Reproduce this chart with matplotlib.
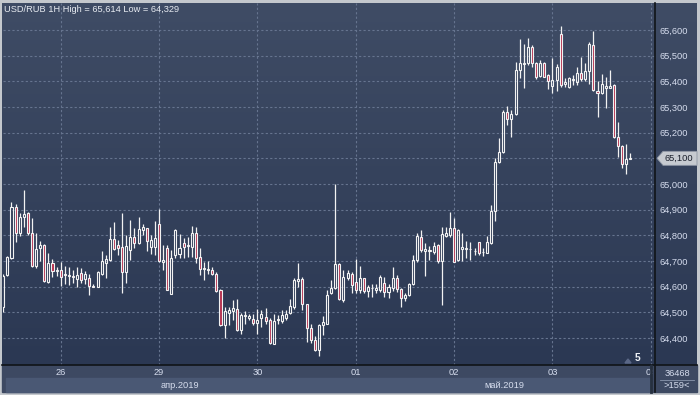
import matplotlib
matplotlib.use("Agg")
import matplotlib.pyplot as plt
import numpy as np
from matplotlib.patches import Rectangle, Polygon
from matplotlib.lines import Line2D
from matplotlib.ticker import FuncFormatter
from matplotlib.transforms import Bbox

# USD/RUB hourly candles, 25 Apr 10:00 .. 03 May 2019
opens = [64.520, 64.645, 64.710, 64.909, 64.810, 64.870, 64.886, 64.810, 64.681, 64.749,
         64.762, 64.618, 64.691, 64.662, 64.665, 64.648, 64.640, 64.642, 64.629, 64.652,
         64.631, 64.635, 64.603, 64.600, 64.649, 64.694, 64.704, 64.784, 64.761, 64.756,
         64.658, 64.743, 64.792, 64.771, 64.821, 64.827, 64.756, 64.753, 64.844, 64.695,
         64.751, 64.573, 64.722, 64.729, 64.771, 64.757, 64.755, 64.810, 64.716, 64.668,
         64.666, 64.666, 64.648, 64.586, 64.449, 64.497, 64.505, 64.514, 64.430, 64.484,
         64.480, 64.475, 64.458, 64.479, 64.482, 64.469, 64.378, 64.471, 64.466, 64.479,
         64.497, 64.521, 64.621, 64.631, 64.531, 64.440, 64.394, 64.355, 64.452, 64.456,
         64.574, 64.594, 64.687, 64.548, 64.632, 64.648, 64.617, 64.587, 64.632, 64.583,
         64.594, 64.587, 64.587, 64.616, 64.581, 64.594, 64.635, 64.590, 64.555, 64.568,
         64.609, 64.704, 64.792, 64.739, 64.738, 64.736, 64.762, 64.700, 64.797, 64.801,
         64.827, 64.704, 64.745, 64.748, 64.746, 64.738, 64.773, 64.734, 64.732, 64.771,
         64.896, 65.087, 65.126, 65.279, 65.252, 65.271, 65.444, 65.466, 65.470, 65.532,
         65.470, 65.421, 65.470, 65.425, 65.383, 65.405, 65.584, 65.390, 65.379, 65.406,
         65.399, 65.431, 65.408, 65.442, 65.542, 65.364, 65.356, 65.375, 65.375, 65.386,
         65.184, 65.149, 65.077, 65.096]
highs = [64.650, 64.720, 64.929, 64.922, 64.886, 64.977, 64.892, 64.866, 64.808, 64.779,
         64.766, 64.730, 64.708, 64.675, 64.697, 64.681, 64.678, 64.665, 64.675, 64.671,
         64.662, 64.649, 64.610, 64.660, 64.739, 64.723, 64.834, 64.853, 64.782, 64.886,
         64.801, 64.860, 64.827, 64.873, 64.843, 64.830, 64.801, 64.856, 64.901, 64.762,
         64.761, 64.744, 64.825, 64.806, 64.791, 64.794, 64.835, 64.832, 64.752, 64.696,
         64.699, 64.677, 64.657, 64.592, 64.521, 64.521, 64.547, 64.551, 64.497, 64.504,
         64.495, 64.495, 64.514, 64.508, 64.518, 64.479, 64.495, 64.491, 64.508, 64.508,
         64.553, 64.635, 64.694, 64.638, 64.532, 64.453, 64.407, 64.456, 64.484, 64.588,
         64.626, 65.000, 64.691, 64.665, 64.665, 64.658, 64.708, 64.681, 64.635, 64.606,
         64.610, 64.610, 64.645, 64.636, 64.610, 64.675, 64.645, 64.594, 64.574, 64.613,
         64.723, 64.808, 64.821, 64.769, 64.760, 64.775, 64.765, 64.834, 64.834, 64.890,
         64.866, 64.823, 64.808, 64.778, 64.775, 64.749, 64.775, 64.749, 64.797, 64.918,
         65.100, 65.178, 65.288, 65.304, 65.288, 65.474, 65.565, 65.545, 65.568, 65.542,
         65.477, 65.483, 65.477, 65.429, 65.490, 65.468, 65.614, 65.412, 65.416, 65.425,
         65.455, 65.494, 65.470, 65.552, 65.594, 65.403, 65.429, 65.418, 65.444, 65.390,
         65.240, 65.152, 65.156, 65.119]
lows = [64.500, 64.640, 64.708, 64.775, 64.799, 64.834, 64.801, 64.678, 64.671, 64.701,
        64.619, 64.616, 64.639, 64.642, 64.603, 64.610, 64.606, 64.616, 64.600, 64.613,
        64.610, 64.568, 64.597, 64.597, 64.645, 64.632, 64.701, 64.743, 64.723, 64.577,
        64.616, 64.704, 64.749, 64.768, 64.801, 64.739, 64.727, 64.723, 64.697, 64.665,
        64.586, 64.570, 64.713, 64.713, 64.713, 64.716, 64.716, 64.692, 64.644, 64.625,
        64.651, 64.644, 64.579, 64.445, 64.401, 64.449, 64.471, 64.427, 64.417, 64.456,
        64.469, 64.449, 64.417, 64.443, 64.456, 64.378, 64.375, 64.456, 64.458, 64.469,
        64.495, 64.514, 64.599, 64.508, 64.384, 64.381, 64.349, 64.329, 64.410, 64.453,
        64.571, 64.590, 64.548, 64.542, 64.626, 64.574, 64.574, 64.574, 64.574, 64.558,
        64.561, 64.574, 64.581, 64.561, 64.555, 64.583, 64.581, 64.522, 64.545, 64.565,
        64.606, 64.697, 64.736, 64.642, 64.704, 64.727, 64.691, 64.529, 64.795, 64.792,
        64.697, 64.701, 64.701, 64.713, 64.704, 64.723, 64.723, 64.719, 64.730, 64.766,
        64.857, 65.083, 65.119, 65.230, 65.184, 65.269, 65.412, 65.375, 65.464, 65.457,
        65.408, 65.418, 65.416, 65.369, 65.353, 65.364, 65.377, 65.379, 65.373, 65.386,
        65.386, 65.403, 65.403, 65.390, 65.364, 65.260, 65.351, 65.295, 65.373, 65.178,
        65.104, 65.064, 65.038, 65.096]
closes = [64.640, 64.714, 64.909, 64.808, 64.873, 64.882, 64.808, 64.681, 64.747, 64.761,
          64.622, 64.691, 64.662, 64.666, 64.639, 64.645, 64.644, 64.636, 64.645, 64.626,
          64.648, 64.603, 64.600, 64.658, 64.700, 64.708, 64.784, 64.748, 64.752, 64.658,
          64.760, 64.792, 64.769, 64.823, 64.831, 64.779, 64.782, 64.788, 64.701, 64.704,
          64.588, 64.713, 64.822, 64.751, 64.755, 64.761, 64.810, 64.713, 64.670, 64.671,
          64.667, 64.648, 64.583, 64.449, 64.504, 64.508, 64.516, 64.430, 64.488, 64.488,
          64.484, 64.458, 64.471, 64.492, 64.466, 64.381, 64.466, 64.475, 64.488, 64.495,
          64.523, 64.625, 64.631, 64.531, 64.440, 64.394, 64.355, 64.449, 64.462, 64.569,
          64.594, 64.687, 64.551, 64.639, 64.652, 64.606, 64.587, 64.632, 64.583, 64.597,
          64.595, 64.596, 64.636, 64.581, 64.597, 64.635, 64.590, 64.555, 64.568, 64.609,
          64.704, 64.797, 64.743, 64.747, 64.742, 64.760, 64.700, 64.804, 64.808, 64.827,
          64.697, 64.821, 64.753, 64.750, 64.748, 64.740, 64.730, 64.736, 64.775, 64.896,
          65.087, 65.126, 65.282, 65.252, 65.271, 65.444, 65.470, 65.470, 65.532, 65.470,
          65.418, 65.470, 65.418, 65.403, 65.405, 65.455, 65.386, 65.399, 65.412, 65.408,
          65.431, 65.408, 65.442, 65.545, 65.366, 65.353, 65.388, 65.383, 65.383, 65.184,
          65.149, 65.077, 65.096, 65.100]

day_labels = ["26", "29", "30", "01", "02", "03", "04"]
bars_first_day = 14      # hourly bars of 25 Apr shown
bars_per_day = 24
month_labels = ["апр.2019", "май.2019"]
title = "USD/RUB 1H High = 65,614 Low = 64,329"
last_price = 65.100
footer_top, footer_bottom = "36468", ">159<"

# colours / fonts
plt.rcParams['font.family'] = ['Liberation Sans', 'DejaVu Sans']
fs = 6.7
bg_top, bg_bot = "#3f4c65", "#2b3853"
strip_color = "#3d4962"
band_color = "#4a5874"
frame_color = "#c4c8cd"
grid_color = "#66748f"
wick_color = "#f2f2f2"
down_color = "#b5304f"
label_color = "#d6ddee"

W, H = 700, 395
fig = plt.figure(figsize=(7, 3.95), dpi=100)
fig.patch.set_facecolor(frame_color)

def fx(px):
    return px / W

def fy(py):
    return 1 - py / H

# gradient panel behind plot + price column
bg = fig.add_axes([fx(2), fy(365), fx(697) - fx(2), fy(3) - fy(365)])
t = np.linspace(0, 1, 256)[:, None, None]
c0 = np.array(matplotlib.colors.to_rgb(bg_top))
c1 = np.array(matplotlib.colors.to_rgb(bg_bot))
bg.imshow(c0 + (c1 - c0) * t, aspect="auto", extent=[0, 1, 0, 1], origin="upper")
bg.axis("off")

# bottom strip with month band
fig.add_artist(Rectangle((fx(2), fy(392)), fx(697) - fx(2), fy(365) - fy(392),
                         transform=fig.transFigure, color=strip_color, zorder=0))
fig.add_artist(Rectangle((fx(6), fy(392)), fx(650) - fx(6), fy(378) - fy(392),
                         transform=fig.transFigure, color=band_color, zorder=0))

# main chart axes
px0, px1, py0, py1 = 2.5, 655, 3, 365
ax = fig.add_axes([fx(px0), fy(py1), fx(px1) - fx(px0), fy(py0) - fy(py1)])
ax.set_facecolor("none")
step = 4.098
ax.set_xlim((px0 - 3.3) / step, (px1 - 3.3) / step)
ax.set_ylim(64.295, 65.705)

o, h, l, c = map(np.array, (opens, highs, lows, closes))
x = np.arange(len(o))
lo = np.minimum(o, c)
hi = np.maximum(o, c)
ax.vlines(x, l, lo, color=wick_color, lw=0.9, zorder=3)
ax.vlines(x, hi, h, color=wick_color, lw=0.9, zorder=3)
bw = 0.5
for xi, a, b, up in zip(x, lo, hi, c >= o):
    ax.add_patch(Rectangle((xi - bw / 2, a), bw, b - a,
                           facecolor="none" if up else down_color,
                           edgecolor=wick_color, lw=0.8, zorder=4))

def price_fmt(v, pos):
    # the tick under the last-price tag is hidden by the tag
    if abs(v - last_price) < 1e-6:
        return ""
    return f"{v:.3f}".replace(".", ",")

day_pos = [bars_first_day + k * bars_per_day for k in range(len(day_labels))]
ax.set_xticks(day_pos)
ax.set_xticklabels(day_labels)
ax.set_yticks(np.arange(64.4, 65.61, 0.1))
ax.yaxis.tick_right()
ax.yaxis.set_major_formatter(FuncFormatter(price_fmt))
ax.tick_params(axis="y", length=0, pad=3.2, labelsize=fs, labelcolor=label_color)
ax.tick_params(axis="x", length=0, pad=2.5, labelsize=fs, labelcolor=label_color)
ax.grid(True, color=grid_color, linestyle=(0, (2, 2)), linewidth=0.8)
for s in ax.spines.values():
    s.set_visible(False)
# last date label is cut by the price column
last = ax.get_xticklabels()[-1]
last.set_clip_box(Bbox.from_extents(0, 0, 653, H))
last.set_clip_on(True)

# frame lines
fig.add_artist(Line2D([fx(2), fx(697)], [fy(365), fy(365)], transform=fig.transFigure,
                      color="#101418", lw=1.2))
fig.add_artist(Line2D([fx(655), fx(655)], [fy(3), fy(392)], transform=fig.transFigure,
                      color="#101418", lw=1.2))
fig.add_artist(Line2D([fx(651), fx(651)], [fy(366), fy(392)], transform=fig.transFigure,
                      color="#26303f", lw=2))

# texts
fig.text(fx(4), fy(9), title, ha="left", va="center", fontsize=fs, color="#e8ecf2")
fig.text(fx(180), fy(385), month_labels[0], ha="center", va="center", fontsize=fs, color=label_color)
fig.text(fx(504), fy(385), month_labels[1], ha="center", va="center", fontsize=fs, color=label_color)
fig.text(fx(677), fy(373), footer_top, ha="center", va="center", fontsize=fs, color=label_color)
fig.add_artist(Line2D([fx(660), fx(694)], [fy(379.5), fy(379.5)], transform=fig.transFigure,
                      color="#8a96ad", lw=0.6))
fig.text(fx(677), fy(386), footer_bottom, ha="center", va="center", fontsize=fs, color=label_color)

# last price tag
yt = fy(365) + (last_price - 64.295) / (65.705 - 64.295) * (fy(3) - fy(365))
th = 7 / H
tag = Polygon([(fx(657), yt), (fx(663), yt + th), (fx(697), yt + th),
               (fx(697), yt - th), (fx(663), yt - th)], closed=True,
              transform=fig.transFigure, facecolor="#c6cad0", edgecolor="#8e96a4", lw=0.6)
fig.add_artist(tag)
fig.text(fx(679), yt, f"{last_price:.3f}".replace(".", ","), ha="center", va="center",
         fontsize=fs, color="#1a1f2b")

# small bar-count marker
fig.add_artist(Polygon([(fx(625), fy(363)), (fx(631), fy(363)), (fx(628), fy(359))],
                       transform=fig.transFigure, color="#5b6887"))
fig.text(fx(638), fy(358), "5", ha="center", va="center", fontsize=fs + 0.6,
         color="#eef1f6", fontweight="bold")

fig.savefig("out.png", dpi=100, facecolor=fig.get_facecolor())
